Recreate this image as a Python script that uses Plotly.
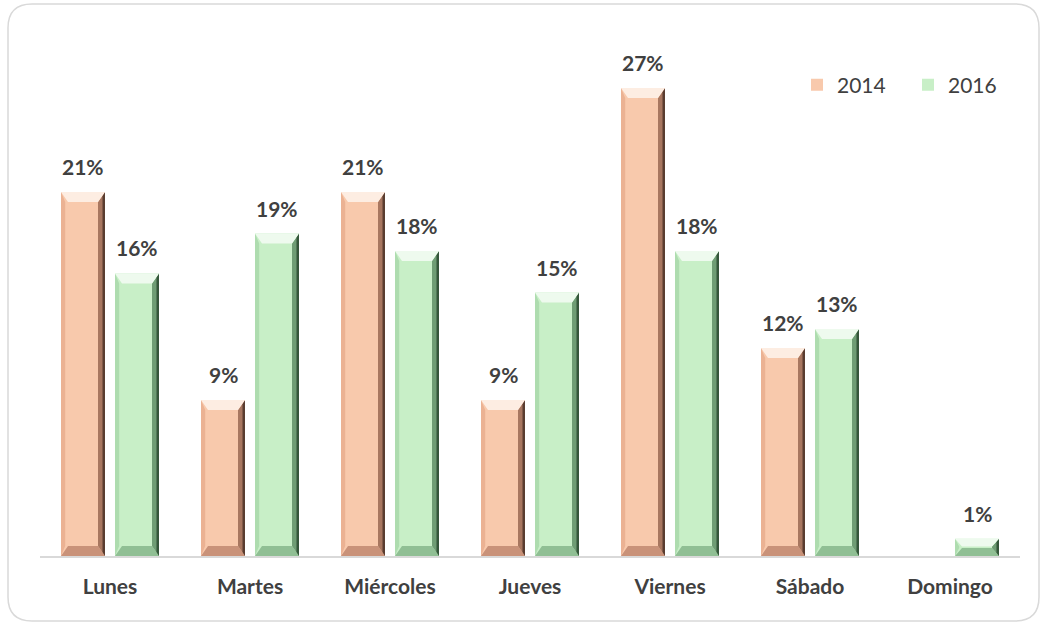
import plotly.graph_objects as go

# Share of events per weekday (percent)
days = ["Lunes", "Martes", "Miércoles", "Jueves", "Viernes", "Sábado", "Domingo"]
pct_2014 = [21.0, 9.0, 21.0, 9.0, 27.0, 12.0, None]
pct_2016 = [16.3, 18.6, 17.6, 15.2, 17.6, 13.1, 1.0]
series_names = ["2014", "2016"]

# Geometry (plot area: 980 x 520 px, y range 0..30)
W_PX, H_PX = 1045, 624
M_L, M_R, M_T, M_B = 40, 25, 36, 68
Y_MAX = 30.0
PLOT_W = W_PX - M_L - M_R
PLOT_H = H_PX - M_T - M_B
PX_X = PLOT_W / len(days)        # px per category unit
PX_Y = PLOT_H / Y_MAX            # px per percent

BAR_W = 44 / PX_X
OFFSETS = [-27 / PX_X, 27 / PX_X]
BEVEL_X = 7 / PX_X
EDGE_X = 2.5 / PX_X
BEVEL_Y = 10 / PX_Y

palettes = {
    "2014": dict(face="#F8C9AC", top="#FDEDE2", left="#EBB293", right="#A87760",
                 edge="#5A3D30", bottom="#C99279"),
    "2016": dict(face="#C8EFC7", top="#EEFAEE", left="#AEDCAF", right="#6F9D74",
                 edge="#35563A", bottom="#90BF94"),
}

TEXT = "#404040"
FONT = "Lato"

fig = go.Figure()


def poly_trace(polys, color):
    xs, ys = [], []
    for p in polys:
        for (x, y) in p:
            xs.append(x)
            ys.append(y)
        xs.append(p[0][0])
        ys.append(p[0][1])
        xs.append(None)
        ys.append(None)
    return go.Scatter(x=xs, y=ys, mode="lines", fill="toself", fillcolor=color,
                      line=dict(width=0, color=color), hoverinfo="skip",
                      showlegend=False)


for name, vals, off in zip(series_names, [pct_2014, pct_2016], OFFSETS):
    pal = palettes[name]
    fig.add_trace(go.Bar(
        x=list(range(len(days))), y=vals, name=name, width=BAR_W, offset=off - BAR_W / 2,
        marker=dict(color=pal["face"], line=dict(width=0)),
        hovertemplate="%{y:.0f}%<extra>" + name + "</extra>",
    ))
    top, bottom, left, right, edge = [], [], [], [], []
    for i, v in enumerate(vals):
        if v is None or v <= 0:
            continue
        c = i + off
        hw = BAR_W / 2
        dy = min(BEVEL_Y, v / 2.2)
        x0, x1 = c - hw, c + hw
        top.append([(x0, v), (x1, v), (x1 - BEVEL_X, v - dy), (x0 + BEVEL_X, v - dy)])
        bottom.append([(x0, 0), (x1, 0), (x1 - BEVEL_X, dy), (x0 + BEVEL_X, dy)])
        left.append([(x0, 0), (x0, v), (x0 + BEVEL_X * 0.6, v - dy), (x0 + BEVEL_X * 0.6, dy)])
        right.append([(x1, 0), (x1, v), (x1 - BEVEL_X, v - dy), (x1 - BEVEL_X, dy)])
        edge.append([(x1, 0), (x1, v), (x1 - EDGE_X, v - dy * 0.4), (x1 - EDGE_X, dy * 0.4)])
    fig.add_trace(poly_trace(left, pal["left"]))
    fig.add_trace(poly_trace(bottom, pal["bottom"]))
    fig.add_trace(poly_trace(right, pal["right"]))
    fig.add_trace(poly_trace(edge, pal["edge"]))
    fig.add_trace(poly_trace(top, pal["top"]))

# Value labels above each bar
annotations = []
for vals, off in zip([pct_2014, pct_2016], OFFSETS):
    for i, v in enumerate(vals):
        if v is None:
            continue
        annotations.append(dict(
            x=i + off, y=v, xref="x", yref="y", text=f"<b>{v:.0f}%</b>",
            showarrow=False, yanchor="bottom", yshift=11,
            font=dict(family=FONT, size=21, color=TEXT),
        ))


# Rounded card border, drawn in paper coordinates
def px(xp):
    return (xp - M_L) / PLOT_W


def py(yp):
    return (H_PX - M_B - yp) / PLOT_H


L, R, T, B, RAD = 8, 1039, 4, 621, 24
path = (
    f"M {px(L + RAD)} {py(T)} L {px(R - RAD)} {py(T)} "
    f"Q {px(R)} {py(T)} {px(R)} {py(T + RAD)} "
    f"L {px(R)} {py(B - RAD)} Q {px(R)} {py(B)} {px(R - RAD)} {py(B)} "
    f"L {px(L + RAD)} {py(B)} Q {px(L)} {py(B)} {px(L)} {py(B - RAD)} "
    f"L {px(L)} {py(T + RAD)} Q {px(L)} {py(T)} {px(L + RAD)} {py(T)} Z"
)

fig.update_layout(
    width=W_PX, height=H_PX,
    margin=dict(l=M_L, r=M_R, t=M_T, b=M_B),
    paper_bgcolor="white", plot_bgcolor="white",
    barmode="overlay",
    showlegend=True,
    legend=dict(orientation="h", x=px(797), y=py(85), xanchor="left", yanchor="middle",
                font=dict(family=FONT, size=21, color=TEXT), itemwidth=30,
                entrywidth=66, entrywidthmode="pixels",
                bgcolor="rgba(0,0,0,0)"),
    xaxis=dict(range=[-0.5, len(days) - 0.5], tickvals=list(range(len(days))),
               ticktext=[f"<b>{d}</b>" for d in days], showgrid=False, zeroline=False,
               showline=True, linecolor="#D9D9D9", linewidth=2, ticks="",
               ticklabelstandoff=11,
               tickfont=dict(family=FONT, size=21, color=TEXT), fixedrange=True),
    yaxis=dict(range=[0, Y_MAX], visible=False, fixedrange=True),
    annotations=annotations,
    shapes=[dict(type="path", path=path, xref="paper", yref="paper",
                 line=dict(color="#D9D9D9", width=1.5), layer="below")],
)

fig.write_html("out.html")
